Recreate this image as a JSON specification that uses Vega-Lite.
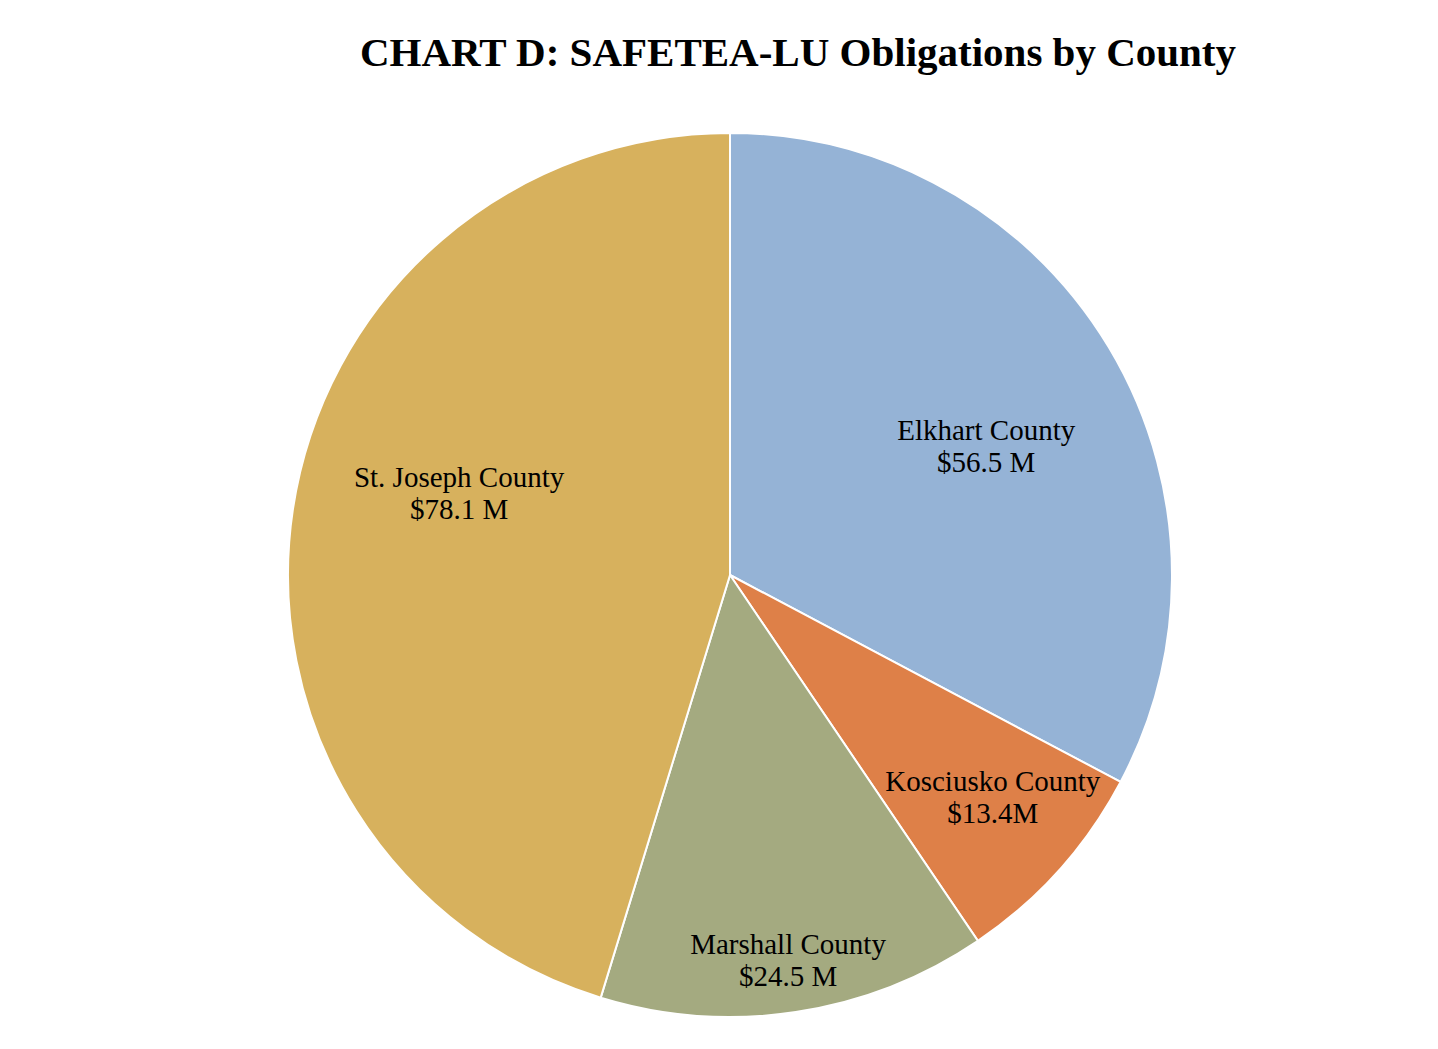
{
  "$schema": "https://vega.github.io/schema/vega-lite/v6.json",
  "width": 1416,
  "height": 948,
  "autosize": "none",
  "padding": {"left": 22, "top": 101, "right": 0, "bottom": 0},
  "background": "white",
  "config": {"view": {"stroke": null}},
  "title": {
    "text": "CHART D: SAFETEA-LU  Obligations by County",
    "font": "Liberation Serif",
    "fontSize": 41,
    "fontWeight": "bold",
    "color": "black",
    "anchor": "middle",
    "dx": 68,
    "offset": -6,
    "baseline": "alphabetic"
  },
  "data": {
    "values": [
      {"county": "Elkhart County", "value": 56.5, "label": "Elkhart County\n$56.5 M"},
      {"county": "Kosciusko County", "value": 13.4, "label": "Kosciusko County\n$13.4M"},
      {"county": "Marshall County", "value": 24.5, "label": "Marshall County\n$24.5 M"},
      {"county": "St. Joseph County", "value": 78.1, "label": "St. Joseph County\n$78.1 M"}
    ]
  },
  "encoding": {
    "theta": {"field": "value", "type": "quantitative", "stack": true}
  },
  "layer": [
    {
      "mark": {"type": "arc", "outerRadius": 442, "stroke": "white", "strokeWidth": 2},
      "encoding": {
        "color": {
          "field": "county",
          "type": "nominal",
          "scale": {
            "domain": ["Elkhart County", "Kosciusko County", "Marshall County", "St. Joseph County"],
            "range": ["#95B3D6", "#DE8048", "#A4AA80", "#D7B15D"]
          },
          "legend": null
        }
      }
    },
    {
      "mark": {"type": "text", "radius": 285, "dx": 12, "dy": 3, "font": "Liberation Serif", "fontSize": 29, "lineBreak": "\n", "lineHeight": 32, "baseline": "middle", "align": "center", "color": "black"},
      "encoding": {
        "detail": {"field": "county", "type": "nominal"},
        "text": {"condition": {"test": "datum.county === 'Elkhart County'", "field": "label"}, "value": ""}
      }
    },
    {
      "mark": {"type": "text", "radius": 345, "dx": 6, "dy": -23, "font": "Liberation Serif", "fontSize": 29, "lineBreak": "\n", "lineHeight": 32, "baseline": "middle", "align": "center", "color": "black"},
      "encoding": {
        "detail": {"field": "county", "type": "nominal"},
        "text": {"condition": {"test": "datum.county === 'Kosciusko County'", "field": "label"}, "value": ""}
      }
    },
    {
      "mark": {"type": "text", "radius": 390, "dy": -16, "font": "Liberation Serif", "fontSize": 29, "lineBreak": "\n", "lineHeight": 32, "baseline": "middle", "align": "center", "color": "black"},
      "encoding": {
        "detail": {"field": "county", "type": "nominal"},
        "text": {"condition": {"test": "datum.county === 'Marshall County'", "field": "label"}, "value": ""}
      }
    },
    {
      "mark": {"type": "text", "radius": 280, "dx": 6, "dy": -56, "font": "Liberation Serif", "fontSize": 29, "lineBreak": "\n", "lineHeight": 32, "baseline": "middle", "align": "center", "color": "black"},
      "encoding": {
        "detail": {"field": "county", "type": "nominal"},
        "text": {"condition": {"test": "datum.county === 'St. Joseph County'", "field": "label"}, "value": ""}
      }
    }
  ]
}
